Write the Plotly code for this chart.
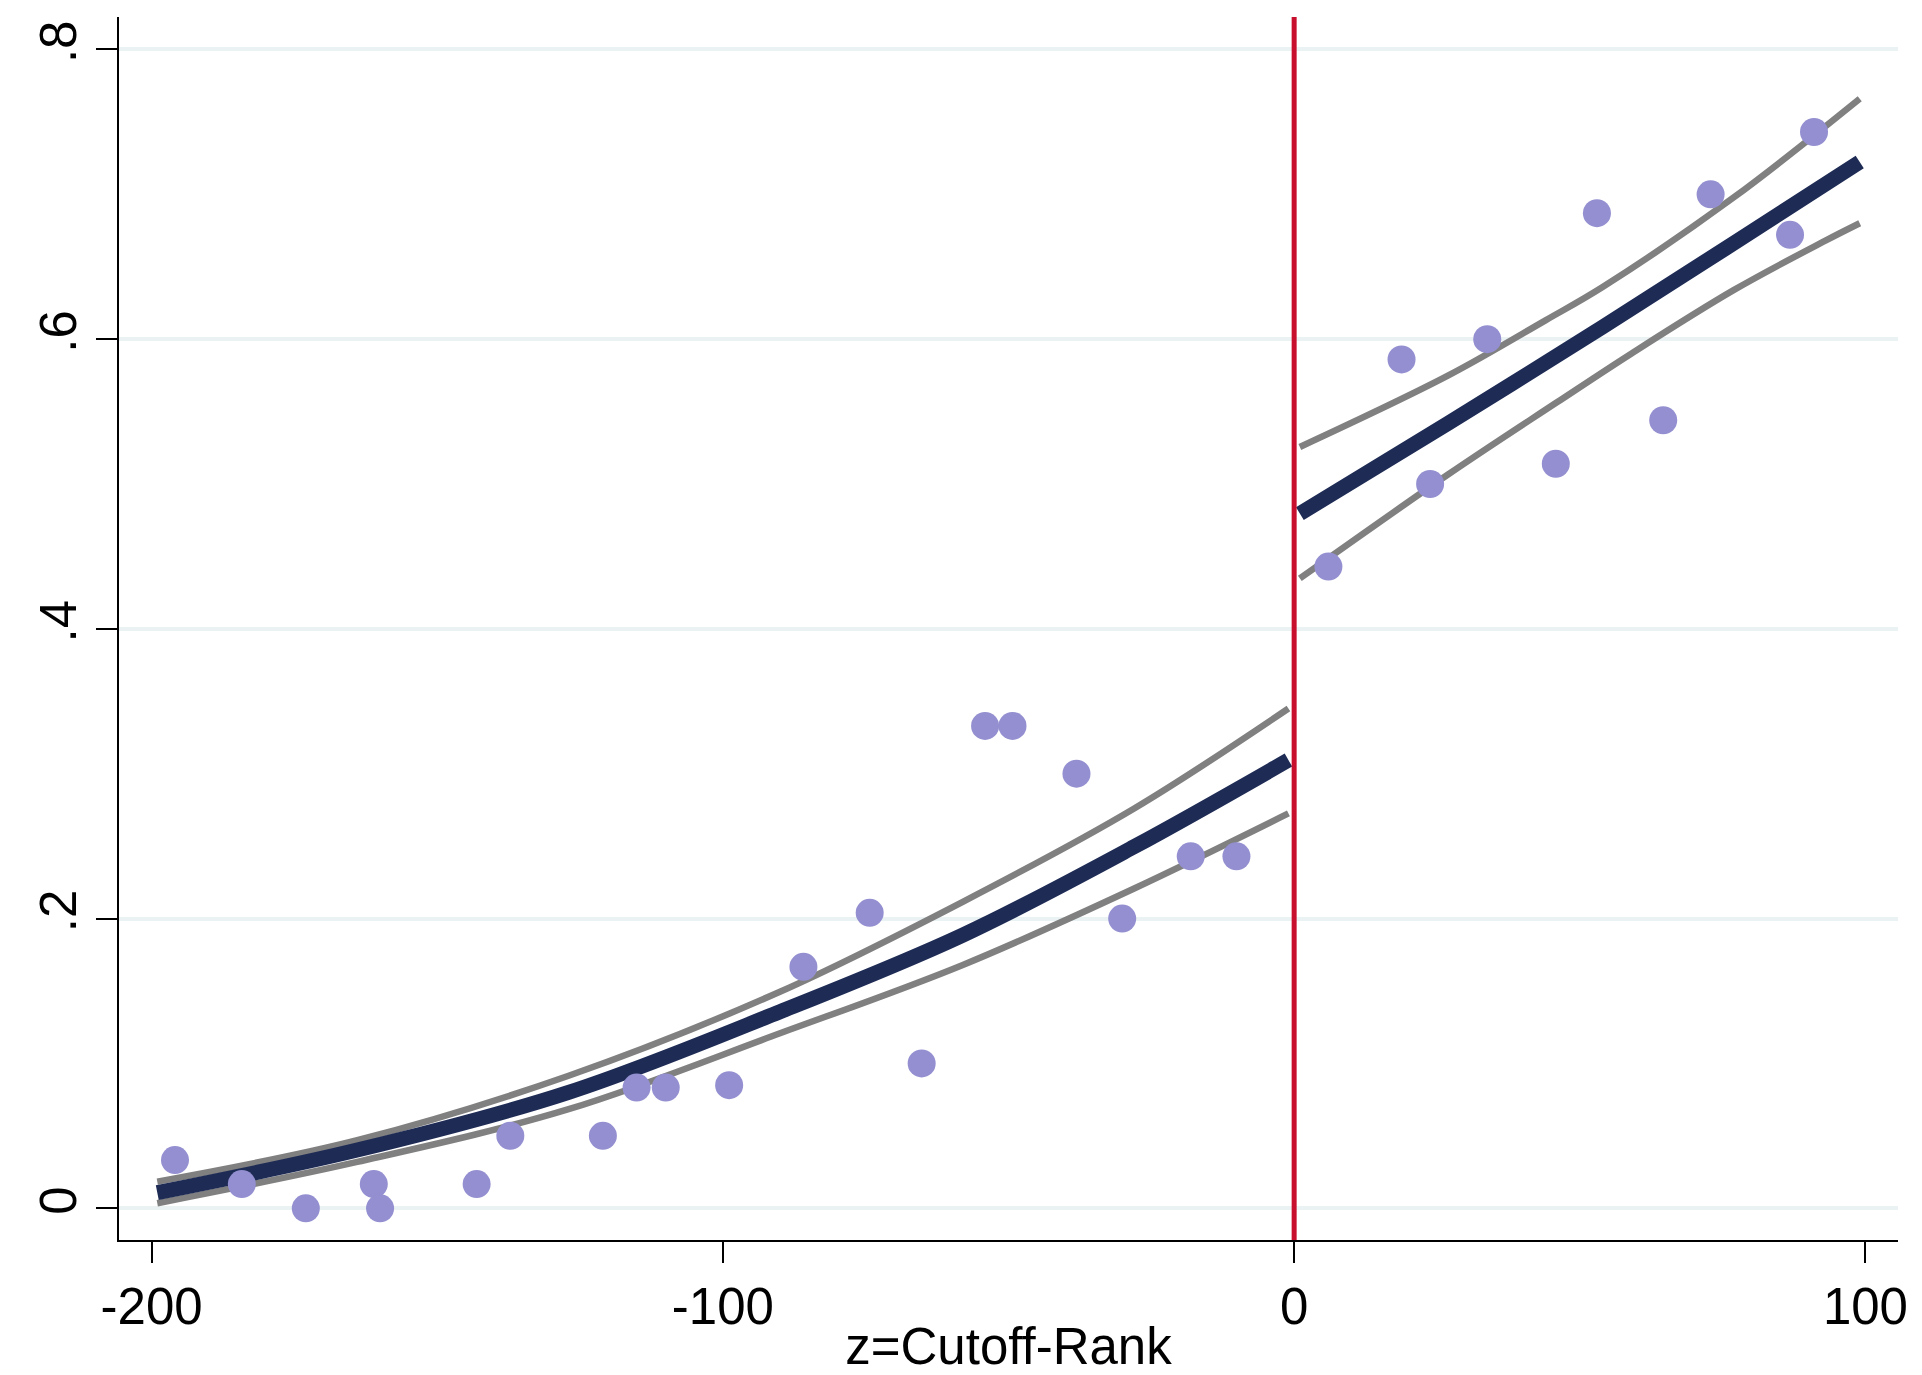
import plotly.graph_objects as go

# ---- data ----
bin_x = [-195.9, -184.2, -173.0, -161.1, -160.0, -143.1, -137.2, -121.0, -115.1, -110.0,
         -98.9, -85.9, -74.3, -65.2, -54.1, -49.3, -38.1, -30.1, -18.1, -10.1,
         6.0, 18.8, 23.8, 33.8, 45.8, 53.0, 64.6, 72.9, 86.8, 91.0]
bin_y = [0.0333, 0.0167, 0.0, 0.0167, 0.0, 0.0167, 0.05, 0.05, 0.0833, 0.0833,
         0.085, 0.1667, 0.204, 0.10, 0.333, 0.333, 0.300, 0.200, 0.243, 0.243,
         0.443, 0.586, 0.500, 0.600, 0.514, 0.687, 0.544, 0.700, 0.672, 0.743]

fit_left_x = [-199, -164, -127, -90, -58, -28, -1]
fit_left_y = [0.0108, 0.0402, 0.080, 0.1357, 0.1886, 0.2496, 0.3094]
ci_left_hi = [0.0184, 0.047, 0.0915, 0.1495, 0.2116, 0.276, 0.345]
ci_left_lo = [0.0035, 0.032, 0.0684, 0.1208, 0.168, 0.2208, 0.2726]

fit_right_x = [1, 27, 54, 77, 99]
fit_right_y = [0.4796, 0.542, 0.6084, 0.6664, 0.7223]
ci_right_hi_x = [1, 27, 44, 54, 77, 99]
ci_right_hi = [0.5256, 0.575, 0.613, 0.636, 0.698, 0.766]
ci_right_lo_x = [1, 27, 46, 59, 77, 93, 99]
ci_right_lo = [0.4348, 0.5067, 0.5564, 0.590, 0.634, 0.668, 0.680]

cutoff = 0
x_ticks = [-200, -100, 0, 100]
x_tick_text = ["-200", "-100", "0", "100"]
y_ticks = [0, 0.2, 0.4, 0.6, 0.8]
y_tick_text = ["0", ".2", ".4", ".6", ".8"]
x_title = "z=Cutoff-Rank"

FONT = "Liberation Sans, Arial, Helvetica, sans-serif"
NAVY = "#1e2b55"
GRAY = "#808080"
DOT = "#938fd0"
RED = "#c8102e"

fig = go.Figure()

for xs, ys in [(fit_left_x, ci_left_hi), (fit_left_x, ci_left_lo),
               (ci_right_hi_x, ci_right_hi), (ci_right_lo_x, ci_right_lo)]:
    fig.add_trace(go.Scatter(x=xs, y=ys, mode="lines",
                             line=dict(color=GRAY, width=6.5, shape="spline", smoothing=1),
                             hoverinfo="skip", showlegend=False))

for xs, ys in [(fit_left_x, fit_left_y), (fit_right_x, fit_right_y)]:
    fig.add_trace(go.Scatter(x=xs, y=ys, mode="lines",
                             line=dict(color=NAVY, width=15, shape="spline", smoothing=1),
                             showlegend=False))

fig.add_trace(go.Scatter(x=bin_x, y=bin_y, mode="markers",
                         marker=dict(color=DOT, size=28, line=dict(width=0)),
                         showlegend=False))

fig.add_shape(type="line", xref="x", yref="paper", x0=cutoff, x1=cutoff, y0=0, y1=1,
              line=dict(color=RED, width=5), layer="above")

fig.update_layout(
    width=1922, height=1375,
    margin=dict(l=119, r=24, t=17, b=135, autoexpand=False),
    paper_bgcolor="white", plot_bgcolor="white",
    font=dict(family=FONT, size=51, color="black"),
    showlegend=False,
)
fig.update_xaxes(
    range=[-205.7, 105.7], tickvals=x_ticks, ticktext=x_tick_text, ticks="outside",
    ticklen=21, tickwidth=2,
    tickcolor="black", showline=True, linecolor="black", linewidth=2, showgrid=False,
    zeroline=False, tickfont=dict(size=51, family=FONT),
    title=dict(text=x_title, font=dict(size=51, family=FONT), standoff=6),
    automargin=False,
)
fig.update_yaxes(
    range=[-0.0219, 0.8224], tickvals=y_ticks, ticktext=y_tick_text, tickangle=-90,
    ticks="outside", ticklen=21, tickwidth=2, tickcolor="black",
    showline=True, linecolor="black", linewidth=2,
    showgrid=True, gridcolor="#eaf2f3", gridwidth=4, zeroline=False,
    tickfont=dict(size=51, family=FONT), automargin=False,
)

fig.write_html("out.html")
